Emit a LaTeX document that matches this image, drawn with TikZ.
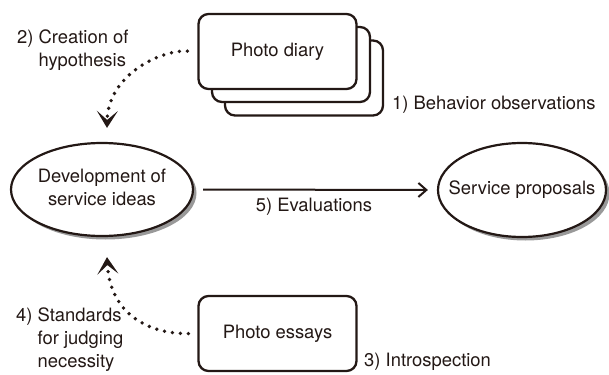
\documentclass[tikz,border=0pt]{standalone}
\usepackage{fontspec}
\setmainfont{TeX Gyre Heros}
\usetikzlibrary{arrows.meta,shapes.geometric,shadows}
\definecolor{ink}{RGB}{35,24,21}
\begin{document}
\begin{tikzpicture}[x=1pt,y=-1pt,
  every node/.style={text=ink, font=\fontsize{18.4}{23}\selectfont},
  card/.style={draw=ink, line width=2.3pt, rounded corners=10pt, fill=white,
    minimum width=158pt, minimum height=75pt, inner sep=0pt},
  oval/.style={ellipse, draw=ink, line width=2.2pt, fill=white, inner sep=0pt,
    drop shadow={shadow xshift=3.5pt, shadow yshift=-3.5pt, fill=black!40, opacity=1}},
  lbl/.style={inner sep=0pt},
  dotline/.style={draw=ink, line width=3.8pt, line cap=round, dash pattern=on 0pt off 8pt,
    -{Stealth[length=17pt, width=21pt, inset=9pt, fill=ink]}},
  flow/.style={draw=ink, line width=2pt, -{Straight Barb[length=8pt, width=14pt]}}
]
\useasboundingbox (0,0) rectangle (609,374);

% stacked photo diary cards
\node[card] (diary3) at (304,78) {};
\node[card] (diary2) at (291,64.5) {};
\node[card] (diary1) at (277.5,51.5) {Photo diary};

% photo essays card
\node[card] (essays) at (277.5,333.5) {Photo essays};

% the two ellipses (zero-width text boxes keep the ellipse at its set size)
\node[oval, minimum width=182pt, minimum height=93pt] (dev) at (102,189.5)
  {\makebox[0pt]{\begin{tabular}{@{}c@{}}Development of\\service ideas\end{tabular}}};
\node[oval, minimum width=168pt, minimum height=94pt] (prop) at (522,190)
  {\makebox[0pt]{Service proposals}};

% labels
\node[lbl, anchor=west] (l1) at (392,105) {1) Behavior observations};
\node[lbl] (l5) at (314,207) {5) Evaluations};
\node[lbl, anchor=west] (l3) at (364,362) {3) Introspection};
\node[lbl, anchor=base west] (l2) at (17,43.5)
  {\begin{tabular}[t]{@{}l@{\ }l@{}}2)&Creation of\\&hypothesis\end{tabular}};
\node[lbl, anchor=base west] (l4) at (16,321.5)
  {\begin{tabular}[t]{@{}l@{\ }l@{}}4)&Standards\\&for judging\\&necessity\end{tabular}};

% connectors
\draw[flow, shorten <=9pt, shorten >=9pt] (dev.east) -- (prop.west);
\draw[dotline, shorten <=10pt]
  (diary1.west) .. controls (160,50) and (108,75) .. ([xshift=5pt,yshift=14pt]dev.north);
\draw[dotline, shorten <=9pt]
  (essays.west) .. controls (150,334) and (110,315) .. ([xshift=5pt,yshift=-20pt]dev.south);
\end{tikzpicture}
\end{document}
